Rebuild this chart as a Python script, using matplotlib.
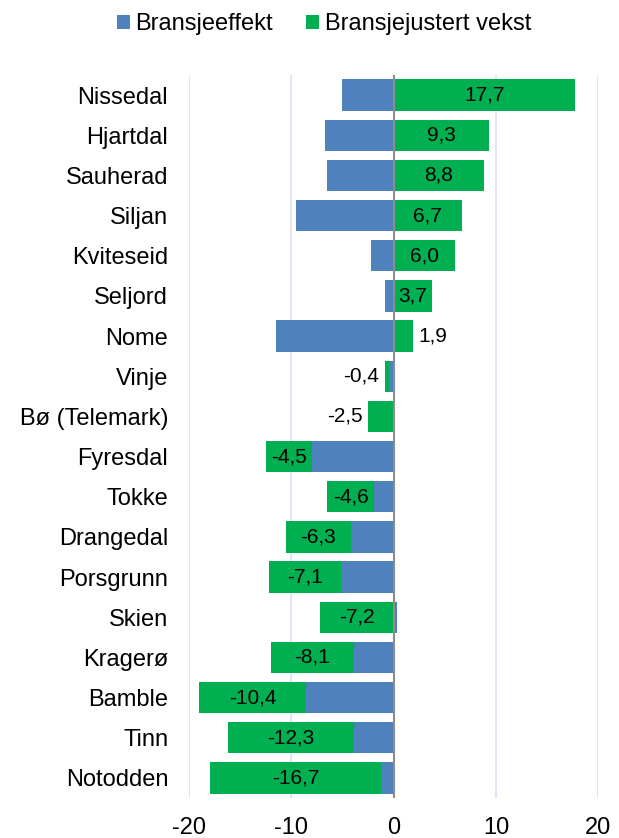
import matplotlib
matplotlib.use("Agg")
import matplotlib.pyplot as plt
import numpy as np

categories = ["Nissedal", "Hjartdal", "Sauherad", "Siljan", "Kviteseid", "Seljord",
              "Nome", "Vinje", "Bø (Telemark)", "Fyresdal", "Tokke", "Drangedal",
              "Porsgrunn", "Skien", "Kragerø", "Bamble", "Tinn", "Notodden"]
bransjeeffekt = [-5.0, -6.7, -6.5, -9.5, -2.2, -0.8, -11.5, -0.45, 0.0, -8.0,
                 -1.9, -4.2, -5.1, 0.3, -3.9, -8.6, -3.9, -1.2]
bransjejustert = [17.7, 9.3, 8.8, 6.7, 6.0, 3.7, 1.9, -0.4, -2.5, -4.5,
                  -4.6, -6.3, -7.1, -7.2, -8.1, -10.4, -12.3, -16.7]
xticks = [-20, -10, 0, 10, 20]

plt.rcParams['font.family'] = ['Liberation Sans', 'DejaVu Sans']
W, H = 619, 838
fig = plt.figure(figsize=(W / 100, H / 100), dpi=100)
ax = fig.add_axes([189 / W, 1 - 798 / H, (598.3 - 189) / W, (798 - 75) / H])

blue = "#4F81BD"
green = "#00B050"

y = np.arange(len(categories))
b = np.array(bransjeeffekt)
g = np.array(bransjejustert)

# Excel-style stacking: positives stack right, negatives stack left
pos_base = np.zeros(len(b))
neg_base = np.zeros(len(b))
b_left = np.where(b >= 0, pos_base, neg_base)
pos_base = pos_base + np.where(b > 0, b, 0)
neg_base = neg_base + np.where(b < 0, b, 0)
g_left = np.where(g >= 0, pos_base, neg_base)

h = 0.78
ax.barh(y, b, left=b_left, height=h, color=blue, label="Bransjeeffekt", zorder=3)
ax.barh(y, g, left=g_left, height=h, color=green, label="Bransjejustert vekst", zorder=3)

for yi, gv, gl in zip(y, g, g_left):
    txt = f"{gv:.1f}".replace(".", ",")
    if abs(gv) >= 3:
        ax.annotate(txt, (gl + gv / 2, yi), ha="center", va="center",
                    fontsize=15, color="black", zorder=4)
    elif gv >= 0:
        ax.annotate(txt, (gl + gv, yi), xytext=(4, 0), textcoords="offset points",
                    ha="left", va="center", fontsize=15, color="black", zorder=4)
    else:
        ax.annotate(txt, (gl + gv, yi), xytext=(-4, 0), textcoords="offset points",
                    ha="right", va="center", fontsize=15, color="black", zorder=4)

ax.set_xlim(-20, 20)
ax.set_ylim(len(categories) - 0.5, -0.5)
ax.set_xticks(xticks)
ax.set_xticklabels([str(t) for t in xticks])
ax.set_yticks(y)
ax.set_yticklabels(categories)
ax.tick_params(axis="both", length=0, labelsize=17)
ax.tick_params(axis="y", pad=15)
ax.tick_params(axis="x", pad=14)
for s in ax.spines.values():
    s.set_visible(False)
ax.grid(axis="x", color="#D9E1F2", linewidth=1.2, zorder=0)
ax.axvline(0, color="#8C8C8C", linewidth=1.5, zorder=5)

fig.legend(loc="center", bbox_to_anchor=(324 / W, 1 - 24 / H), ncol=2, frameon=False,
           fontsize=17, handlelength=0.55, handleheight=0.55, handletextpad=0.25,
           columnspacing=1.4, borderaxespad=0)

fig.savefig("out.png", dpi=100)
